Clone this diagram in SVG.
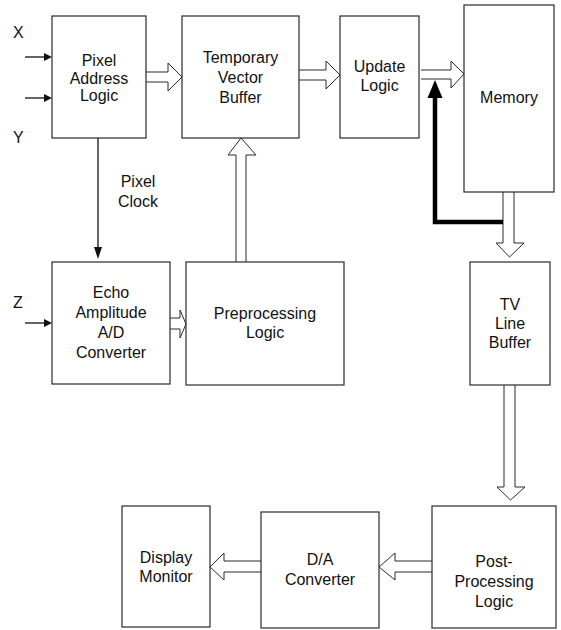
<svg xmlns="http://www.w3.org/2000/svg" width="561" height="630" viewBox="0 0 561 630">
  <style>
    .box { fill: #fff; stroke: #2a2a2a; stroke-width: 1.2; }
    .lbl { font-family: "Liberation Sans", Arial, sans-serif; font-size: 16px; fill: #111; text-anchor: middle; }
    .sig { font-family: "Liberation Sans", Arial, sans-serif; font-size: 16px; fill: #111; }
    .bus { fill: #fff; stroke: #2a2a2a; stroke-width: 1; stroke-linejoin: miter; }
    .wire { fill: none; stroke: #111; stroke-width: 1.3; }
    .head { fill: #111; stroke: none; }
    .thick { fill: none; stroke: #000; stroke-width: 4.5; stroke-linejoin: miter; }
  </style>
  <rect width="561" height="630" fill="#fff"/>

  <!-- connectors -->
  <g id="connectors">
    <!-- X, Y, Z inputs -->
    <line class="wire" x1="25" y1="57" x2="46" y2="57"/>
    <polygon class="head" points="52,57 44,53 44,61"/>
    <line class="wire" x1="25" y1="98" x2="46" y2="98"/>
    <polygon class="head" points="52,98 44,94 44,102"/>
    <line class="wire" x1="25" y1="323" x2="46" y2="323"/>
    <polygon class="head" points="52,323 44,319 44,327"/>

    <!-- pixel clock -->
    <line class="wire" x1="98" y1="138" x2="98" y2="250"/>
    <polygon class="head" points="98,259 94,247 102,247"/>

    <!-- bus arrows (hollow) -->
    <path class="bus" d="M146,72 H168 V63 L182,77 L168,91 V82 H146"/>
    <path class="bus" d="M299,70 H326 V61 L340,75 L326,89 V80 H299"/>
    <path class="bus" d="M421,70 H451 V61 L464,74 L451,88 V79 H421"/>
    <path class="bus" d="M236,262 V155 H228 L241,138 L256,155 H246 V262"/>
    <path class="bus" d="M170,318 H180 V310 L186,324 L180,338 V329 H170"/>
    <path class="bus" d="M503,192 V243 H496 L509.5,257 L524,243 H514 V192"/>
    <path class="bus" d="M504,385 V487 H497 L510.5,500 L525,487 H515 V385"/>
    <path class="bus" d="M432,561 H395 V553 L379,567 L395,580 V572 H432"/>
    <path class="bus" d="M261,561 H224 V553 L210,567 L224,580 V572 H261"/>

    <!-- memory read-back path -->
    <path class="thick" d="M503,222 H435 V96"/>
    <polygon fill="#000" points="435,80 427.5,98 442.5,98"/>
  </g>

  <!-- signal labels -->
  <text class="sig" x="13" y="38">X</text>
  <text class="sig" x="13" y="143">Y</text>
  <text class="sig" x="13" y="308">Z</text>
  <text class="lbl" x="138" y="187">Pixel</text>
  <text class="lbl" x="138" y="207">Clock</text>

  <g id="pixel-address-logic">
    <rect class="box" x="52" y="16" width="94" height="122"/>
    <text class="lbl" x="99" y="66">Pixel</text>
    <text class="lbl" x="99" y="83.5">Address</text>
    <text class="lbl" x="99" y="101">Logic</text>
  </g>

  <g id="temporary-vector-buffer">
    <rect class="box" x="182" y="16" width="117" height="122"/>
    <text class="lbl" x="240.5" y="63">Temporary</text>
    <text class="lbl" x="240.5" y="83">Vector</text>
    <text class="lbl" x="240.5" y="103">Buffer</text>
  </g>

  <g id="update-logic">
    <rect class="box" x="340" y="16" width="79" height="122"/>
    <text class="lbl" x="379.5" y="72">Update</text>
    <text class="lbl" x="379.5" y="91">Logic</text>
  </g>

  <g id="memory">
    <rect class="box" x="464" y="5" width="90" height="187"/>
    <text class="lbl" x="509" y="103">Memory</text>
  </g>

  <g id="echo-amplitude-ad">
    <rect class="box" x="52" y="262" width="118" height="122"/>
    <text class="lbl" x="111" y="298">Echo</text>
    <text class="lbl" x="111" y="318">Amplitude</text>
    <text class="lbl" x="111" y="338">A/D</text>
    <text class="lbl" x="111" y="358">Converter</text>
  </g>

  <g id="preprocessing-logic">
    <rect class="box" x="186" y="262" width="158" height="123"/>
    <text class="lbl" x="265" y="319">Preprocessing</text>
    <text class="lbl" x="265" y="338">Logic</text>
  </g>

  <g id="tv-line-buffer">
    <rect class="box" x="470" y="262" width="80" height="123"/>
    <text class="lbl" x="510" y="310">TV</text>
    <text class="lbl" x="510" y="329">Line</text>
    <text class="lbl" x="510" y="348">Buffer</text>
  </g>

  <g id="display-monitor">
    <rect class="box" x="122" y="506" width="88" height="121"/>
    <text class="lbl" x="166" y="563">Display</text>
    <text class="lbl" x="166" y="582">Monitor</text>
  </g>

  <g id="da-converter">
    <rect class="box" x="261" y="512" width="118" height="116"/>
    <text class="lbl" x="320" y="565">D/A</text>
    <text class="lbl" x="320" y="585">Converter</text>
  </g>

  <g id="post-processing-logic">
    <rect class="box" x="432" y="506" width="124" height="122"/>
    <text class="lbl" x="494" y="567">Post-</text>
    <text class="lbl" x="494" y="587">Processing</text>
    <text class="lbl" x="494" y="607">Logic</text>
  </g>
</svg>
